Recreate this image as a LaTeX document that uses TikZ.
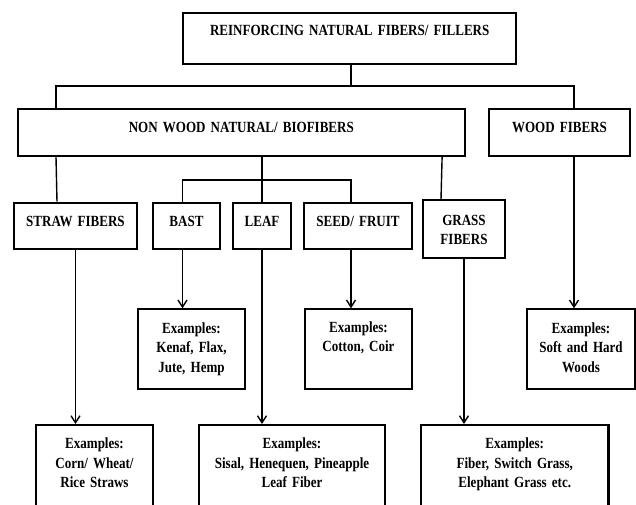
\documentclass[tikz,border=0pt]{standalone}
\usepackage{fontspec}
\setmainfont{Liberation Serif}[FakeStretch=0.84]
\usepackage{tikz}
\usetikzlibrary{arrows.meta}

\tikzset{
  fbox/.style={draw, line width=2.1pt, align=center, inner sep=0pt, anchor=north,
    font=\fontsize{15.5}{19.4}\selectfont\bfseries},
  dims/.style n args={3}{text width=#1, text height=#2, text depth=#3},
}

\begin{document}
\begin{tikzpicture}[x=1pt,y=-1pt,line width=1.4pt,>={Straight Barb[length=7pt,width=9pt]}]
\useasboundingbox (0,0) rectangle (636,504);
% boxes
\node[fbox,dims={333pt}{22.3pt}{28.2pt}] (top) at (349.7,12) {REINFORCING NATURAL FIBERS/ FILLERS};
\node[fbox,dims={446.5pt}{23.4pt}{23.3pt}] (nonwood) at (241.3,108.3) {NON WOOD NATURAL/ BIOFIBERS};
\node[fbox,dims={141pt}{23.4pt}{23.3pt}] (wood) at (559.5,108.3) {WOOD FIBERS};
\node[fbox,dims={123pt}{23.3pt}{23.3pt}] (straw) at (75.5,201.7) {STRAW FIBERS};
\node[fbox,dims={67pt}{23.3pt}{23.3pt}] (bast) at (186.5,201.7) {BAST};
\node[fbox,dims={58pt}{23.3pt}{23.3pt}] (leaf) at (262,201.7) {LEAF};
\node[fbox,dims={108pt}{23.3pt}{23.3pt}] (seed) at (358,201.7) {SEED/ FRUIT};
\node[fbox,dims={82pt}{24.7pt}{32.7pt}] (grass) at (464,199.3) {GRASS\\FIBERS};
% examples
\node[fbox,dims={107pt}{24pt}{56pt}] (bastex) at (191.5,308.3) {Examples:\\Kenaf, Flax,\\Jute, Hemp};
\node[fbox,dims={107pt}{22.7pt}{57.3pt}] (seedex) at (358.5,308.3) {Examples:\\Cotton, Coir};
\node[fbox,dims={108pt}{24pt}{56pt}] (woodex) at (581,308.3) {Examples:\\Soft and Hard\\Woods};
\node[fbox,dims={117pt}{23.7pt}{70pt}] (strawex) at (94.5,424) {Examples:\\Corn/ Wheat/\\Rice Straws};
\node[fbox,dims={186pt}{23.7pt}{70pt}] (leafex) at (292,424) {Examples:\\Sisal, Henequen, Pineapple\\Leaf Fiber};
\node[fbox,dims={187.5pt}{23.7pt}{70pt}] (grassex) at (514.75,424) {Examples:\\Fiber, Switch Grass,\\Elephant Grass etc.};
% connectors
\coordinate (split) at (351,86);
\coordinate (fork) at (262,180);
\draw ([xshift=1.3pt]top.south) -- (split);
\draw ([xshift=39pt]nonwood.north west) |- (split) -| ([xshift=14.5pt]wood.north);
\draw ([xshift=39pt]nonwood.south west) -- ([xshift=-18.5pt]straw.north);
\draw (nonwood.south -| leaf.north) -- (leaf.north);
\draw ([xshift=-4pt]bast.north) |- (fork) -| ([xshift=-7pt]seed.north);
\draw ([xshift=-23.5pt]nonwood.south east) -- ([xshift=-23pt]grass.north);
\draw[->] (straw.south) -- (straw.south |- strawex.north);
\draw[->] ([xshift=-4pt]bast.south) -- ([xshift=-9pt]bastex.north);
\draw[->] (leaf.south) -- (leaf.south |- leafex.north);
\draw[->] ([xshift=-7pt]seed.south) -- ([xshift=-7.5pt]seedex.north);
\draw[->] (grass.south) -- (grass.south |- grassex.north);
\draw[->] ([xshift=14.5pt]wood.south) -- ([xshift=-7pt]woodex.north);
\end{tikzpicture}
\end{document}
